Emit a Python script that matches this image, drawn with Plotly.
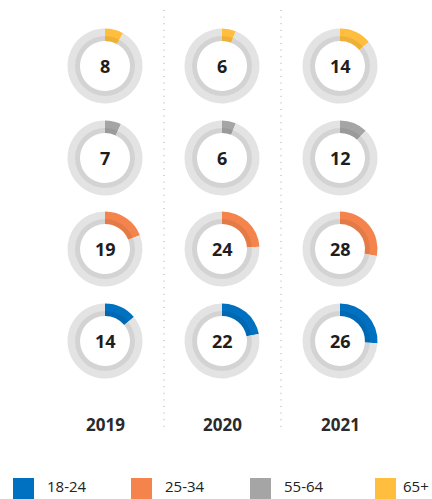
import plotly.graph_objects as go

# Share (%) of each age group, by year
years = ["2019", "2020", "2021"]
groups = ["65+", "55-64", "25-34", "18-24"]
values_65_plus = [8, 6, 14]
values_55_64 = [7, 6, 12]
values_25_34 = [19, 24, 28]
values_18_24 = [14, 22, 26]
rows = [values_65_plus, values_55_64, values_25_34, values_18_24]

legend_order = ["18-24", "25-34", "55-64", "65+"]
colors = {"18-24": "#0070c0", "25-34": "#f5844c", "55-64": "#a5a5a6", "65+": "#ffbe3d"}

W, H = 432, 499
col_x = [105, 222, 340]
row_y = [66, 158, 249, 341]
r_out, r_mid, r_in = 37.5, 30, 25
track = "#e3e3e3"
font = "Open Sans, Segoe UI, sans-serif"

fig = go.Figure()


def dom(cx, cy, r):
    return dict(x=[(cx - r) / W, (cx + r) / W], y=[1 - (cy + r) / H, 1 - (cy - r) / H])


for gi, g in enumerate(groups):
    for ci, v in enumerate(rows[gi]):
        cx, cy = col_x[ci], row_y[gi]
        fig.add_trace(go.Pie(
            values=[v, 100 - v], sort=False, direction="clockwise", rotation=0,
            hole=r_in / r_out, domain=dom(cx, cy, r_out),
            marker=dict(colors=[colors[g], track], line=dict(width=0)),
            textinfo="none", hoverinfo="skip", showlegend=False))
        # slightly darker inner band of the ring
        fig.add_trace(go.Pie(
            values=[1], hole=r_in / r_mid, domain=dom(cx, cy, r_mid),
            marker=dict(colors=["rgba(0,0,0,0.065)"], line=dict(width=0)),
            textinfo="none", hoverinfo="skip", showlegend=False))
        fig.add_annotation(x=cx, y=cy, text=f"<b>{v}</b>", showarrow=False,
                           xref="x", yref="y", font=dict(family=font, size=18, color="#1e1e1e"))

for ci, y in enumerate(years):
    fig.add_annotation(x=col_x[ci], y=424.5, text=f"<b>{y}</b>", showarrow=False,
                       xref="x", yref="y", font=dict(family=font, size=17, color="#2a2a2a"))

# dotted separators between years
for x in [164, 281]:
    fig.add_shape(type="line", x0=x, x1=x, y0=10, y1=432, xref="x", yref="y",
                  line=dict(color="#a8a8a8", width=1, dash="1px,5.6px"))

# legend
leg_x = [13, 131, 250, 375]
for i, g in enumerate(legend_order):
    x0 = leg_x[i]
    fig.add_shape(type="rect", x0=x0, x1=x0 + 21, y0=478, y1=499, xref="x", yref="y",
                  line=dict(width=0), fillcolor=colors[g])
    last = i == len(legend_order) - 1
    fig.add_annotation(x=(W - 1) if last else x0 + 32, y=486, text=g, showarrow=False,
                       xanchor="right" if last else "left",
                       xref="x", yref="y", font=dict(family=font, size=15, color="#222"))

fig.update_layout(
    width=W, height=H, margin=dict(l=0, r=0, t=0, b=0),
    paper_bgcolor="white", plot_bgcolor="white",
    xaxis=dict(range=[0, W], visible=False, fixedrange=True),
    yaxis=dict(range=[H, 0], visible=False, fixedrange=True),
)

fig.write_html("out.html")
